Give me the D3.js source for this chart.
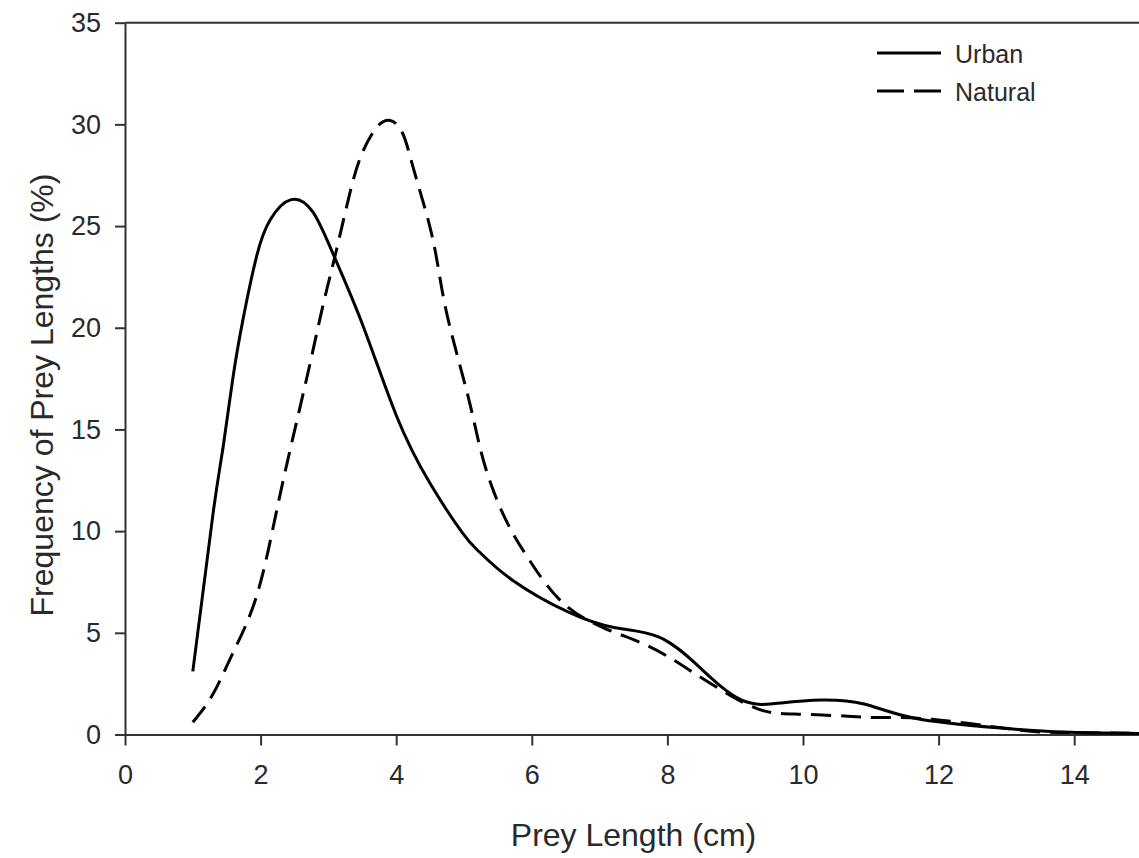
<!DOCTYPE html>
<html><head><meta charset="utf-8">
<script src="https://cdn.jsdelivr.net/npm/d3@7"></script>
<style>html,body{margin:0;padding:0;background:#fff;overflow:hidden}</style>
</head><body>
<svg id="c" width="1139" height="858"></svg>
<script>
const urbanX = [1.0, 1.3, 1.45, 1.59, 1.74, 1.94, 2.14, 2.45, 2.77, 3.06, 3.51, 4.0, 4.49, 4.98, 5.22, 5.71, 6.55, 7.23, 7.87, 8.46, 9.09, 9.68, 10.27, 10.9, 11.65, 12.87, 13.85, 15.0];
const urbanY = [3.1, 10.9, 14.2, 17.5, 20.4, 23.5, 25.3, 26.3, 25.7, 23.7, 20.1, 15.7, 12.4, 9.9, 9.0, 7.6, 6.0, 5.25, 4.8, 3.35, 1.7, 1.55, 1.7, 1.5, 0.8, 0.33, 0.12, 0.05];
const naturalX = [1.0, 1.3, 1.59, 1.94, 2.23, 2.47, 2.72, 2.92, 3.11, 3.33, 3.5, 3.7, 3.9, 4.09, 4.24, 4.43, 4.58, 4.72, 4.92, 5.12, 5.31, 5.61, 5.96, 6.45, 7.09, 7.72, 8.31, 8.94, 9.44, 9.93, 10.66, 11.15, 11.9, 13.1, 13.8, 15.0];
const naturalY = [0.6, 2.0, 4.0, 6.8, 10.9, 14.5, 18.1, 21.1, 23.7, 26.8, 28.6, 29.8, 30.2, 29.6, 28.0, 25.8, 23.7, 21.1, 18.4, 15.8, 13.2, 10.6, 8.6, 6.5, 5.2, 4.35, 3.2, 1.9, 1.15, 1.0, 0.9, 0.83, 0.75, 0.25, 0.1, 0.05];
const xTicks = [0, 2, 4, 6, 8, 10, 12, 14];
const yTicks = [0, 5, 10, 15, 20, 25, 30, 35];
const seriesNames = ["Urban", "Natural"];
const xTitle = "Prey Length (cm)";
const yTitle = "Frequency of Prey Lengths (%)";

const svg = d3.select("#c");
const L = 125, R = 1142, T = 22.7, B = 734.5;
const x = d3.scaleLinear().domain([0, 15]).range([L, R]);
const y = d3.scaleLinear().domain([0, 35]).range([B, T]);
const font = "'Liberation Sans', Arial, sans-serif";
const axisCol = "#333";
const textCol = "#2a2a2a";

// top / right frame lines
svg.append("line").attr("x1", L).attr("x2", R).attr("y1", T).attr("y2", T)
  .attr("stroke", axisCol).attr("stroke-width", 2);
svg.append("line").attr("x1", R).attr("x2", R).attr("y1", T).attr("y2", B)
  .attr("stroke", axisCol).attr("stroke-width", 2);

const xa = svg.append("g").attr("transform", `translate(0,${B})`)
  .call(d3.axisBottom(x).tickValues(xTicks).tickSizeInner(11).tickSizeOuter(0).tickPadding(19).tickFormat(d3.format("d")));
const ya = svg.append("g").attr("transform", `translate(${L},0)`)
  .call(d3.axisLeft(y).tickValues(yTicks).tickSizeInner(10).tickSizeOuter(0).tickPadding(14).tickFormat(d3.format("d")));
[xa, ya].forEach(g => {
  g.select(".domain").attr("stroke", axisCol).attr("stroke-width", 2);
  g.selectAll(".tick line").attr("stroke", axisCol).attr("stroke-width", 2);
  g.selectAll(".tick text").attr("fill", textCol).style("font-family", font).style("font-size", "27px");
});

const line = d3.line().x(d => x(d[0])).y(d => y(d[1])).curve(d3.curveNatural);
const urban = urbanX.map((v, i) => [v, urbanY[i]]);
const natural = naturalX.map((v, i) => [v, naturalY[i]]);

svg.append("path").attr("d", line(natural)).attr("fill", "none").attr("stroke", "#000")
  .attr("stroke-width", 3).attr("stroke-dasharray", "20,10");
svg.append("path").attr("d", line(urban)).attr("fill", "none").attr("stroke", "#000")
  .attr("stroke-width", 3);

// legend
const leg = svg.append("g");
const legY = [53, 91];
seriesNames.forEach((n, i) => {
  leg.append("line").attr("x1", 877).attr("x2", 941).attr("y1", legY[i]).attr("y2", legY[i])
    .attr("stroke", "#000").attr("stroke-width", 3)
    .attr("stroke-dasharray", i === 1 ? "27,10" : null);
  leg.append("text").attr("x", 955).attr("y", legY[i] + 10).text(n)
    .attr("fill", textCol).style("font-family", font).style("font-size", "25px");
});

svg.append("text").attr("x", (L + R) / 2).attr("y", 846).attr("text-anchor", "middle")
  .text(xTitle).attr("fill", textCol).style("font-family", font).style("font-size", "32px");
svg.append("text").attr("transform", `translate(53,395) rotate(-90)`).attr("text-anchor", "middle")
  .text(yTitle).attr("fill", textCol).style("font-family", font).style("font-size", "32px");
</script>
</body></html>
